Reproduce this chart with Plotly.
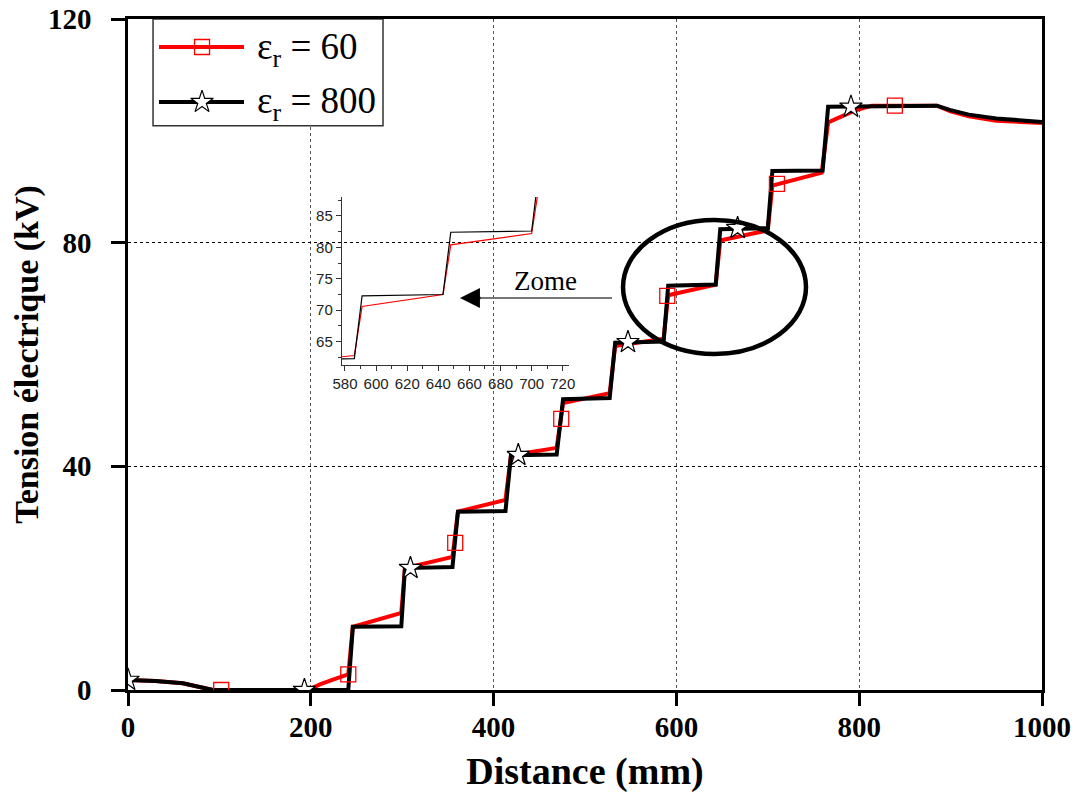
import plotly.graph_objects as go

# ---------------- data ----------------
dist_800 = [0, 30, 60, 79, 93, 241, 246, 299, 303, 355, 361, 413, 419, 469, 476, 527, 533,
            586, 591, 643, 648, 700, 705, 760, 766, 885, 900, 920, 950, 1000]
volt_800 = [1.8, 1.6, 1.2, 0.6, 0.0, 0.0, 11.3, 11.4, 21.8, 22.0, 31.9, 32.0, 42.0, 42.1, 52.0, 52.2, 62.1,
            62.3, 72.3, 72.5, 82.4, 82.6, 92.8, 92.9, 104.3, 104.5, 103.7, 102.9, 102.2, 101.6]

dist_60 = [0, 30, 60, 79, 93, 197, 210, 225, 241, 246, 299, 303, 355, 361, 413, 419, 469, 476, 527, 533,
           586, 591, 643, 648, 700, 705, 759, 766, 780, 795, 814, 885, 900, 920, 950, 1000]
volt_60 = [1.8, 1.6, 1.2, 0.6, 0.0, 0.0, 1.0, 1.9, 2.8, 11.3, 13.8, 21.8, 23.8, 31.9, 34.0, 42.0, 43.3, 51.3, 53.1, 61.5,
           62.8, 70.6, 72.5, 80.4, 82.2, 90.2, 92.5, 101.5, 102.6, 103.6, 104.5, 104.5, 103.5, 102.6, 101.8, 101.4]

mark_x_60 = [102, 241, 358, 474, 590, 710, 839]
mark_y_60 = [0.0, 2.8, 26.3, 48.5, 70.5, 90.5, 104.5]
mark_x_800 = [0, 193, 309, 427, 547, 667, 791]
mark_y_800 = [1.8, 0.0, 21.8, 42.0, 62.2, 82.6, 104.3]

x_ticks = [0, 200, 400, 600, 800, 1000]
y_ticks = [0, 40, 80, 120]
inset_x_ticks = [580, 600, 620, 640, 660, 680, 700, 720]
inset_y_ticks = [65, 70, 75, 80, 85]
series_names = ["ε<sub>r</sub> = 60", "ε<sub>r</sub> = 800"]

RED = "#ff0000"
BLACK = "#000000"
SERIF = "Liberation Serif"

fig = go.Figure()

# ---------------- main curves ----------------
fig.add_trace(go.Scatter(x=dist_60, y=volt_60, mode="lines", line=dict(color=RED, width=4),
                         showlegend=False, hoverinfo="skip"))
fig.add_trace(go.Scatter(x=dist_800, y=volt_800, mode="lines", line=dict(color=BLACK, width=4),
                         showlegend=False, hoverinfo="skip"))
fig.add_trace(go.Scatter(x=mark_x_60, y=mark_y_60, mode="markers",
                         marker=dict(symbol="square-open", size=15, color=RED, line=dict(width=1.3, color=RED)),
                         showlegend=False, hoverinfo="skip"))
fig.add_trace(go.Scatter(x=mark_x_800, y=mark_y_800, mode="markers",
                         marker=dict(symbol="star", size=17, color="white", line=dict(width=1.2, color=BLACK)),
                         showlegend=False, hoverinfo="skip"))

# ---------------- inset (zoom) ----------------
fig.add_trace(go.Scatter(x=dist_60, y=volt_60, mode="lines", line=dict(color=RED, width=1.2),
                         xaxis="x2", yaxis="y2", showlegend=False, hoverinfo="skip"))
fig.add_trace(go.Scatter(x=dist_800, y=volt_800, mode="lines", line=dict(color=BLACK, width=1.2),
                         xaxis="x2", yaxis="y2", showlegend=False, hoverinfo="skip"))

# ---------------- legend (drawn in a [0,1] overlay space) ----------------
leg_y = [0.9583, 0.8763]
leg_x0, leg_x1, leg_xm = 0.0339, 0.1269, 0.081
fig.add_trace(go.Scatter(x=[leg_x0, leg_x1], y=[leg_y[0]] * 2, mode="lines", line=dict(color=RED, width=4),
                         xaxis="x3", yaxis="y3", showlegend=False, hoverinfo="skip"))
fig.add_trace(go.Scatter(x=[leg_xm], y=[leg_y[0]], mode="markers",
                         marker=dict(symbol="square-open", size=15, color=RED, line=dict(width=1.3, color=RED)),
                         xaxis="x3", yaxis="y3", showlegend=False, hoverinfo="skip"))
fig.add_trace(go.Scatter(x=[leg_x0, leg_x1], y=[leg_y[1]] * 2, mode="lines", line=dict(color=BLACK, width=4),
                         xaxis="x3", yaxis="y3", showlegend=False, hoverinfo="skip"))
fig.add_trace(go.Scatter(x=[leg_xm], y=[leg_y[1]], mode="markers",
                         marker=dict(symbol="star", size=17, color="white", line=dict(width=1.2, color=BLACK)),
                         xaxis="x3", yaxis="y3", showlegend=False, hoverinfo="skip"))

shapes = [
    # legend box (main data space, above gridlines, below traces)
    dict(type="rect", xref="x", yref="y", x0=27.4, x1=279, y0=100.9, y1=120,
         line=dict(color="#333333", width=1.5), fillcolor="white", layer="between"),
    # ellipse highlighting the zoomed zone
    dict(type="circle", xref="paper", yref="paper", x0=0.5416, x1=0.7418, y0=0.5007, y1=0.7004,
         line=dict(color=BLACK, width=4.5), layer="above"),
    # grey arrow shaft
    dict(type="line", xref="paper", yref="paper", x0=0.381, x1=0.5295, y0=0.5842, y1=0.5842,
         line=dict(color="#777777", width=2), layer="above"),
]

annotations = [
    dict(text=series_names[0], xref="paper", yref="paper", x=0.139, y=0.955, xanchor="left", yanchor="middle",
         showarrow=False, font=dict(family=SERIF, size=37, color=BLACK)),
    dict(text=series_names[1], xref="paper", yref="paper", x=0.139, y=0.874, xanchor="left", yanchor="middle",
         showarrow=False, font=dict(family=SERIF, size=37, color=BLACK)),
    dict(text="Zome", xref="paper", yref="paper", x=0.457, y=0.609, xanchor="center", yanchor="middle",
         showarrow=False, font=dict(family=SERIF, size=27, color=BLACK)),
    # arrow head
    dict(text="", xref="paper", yref="paper", x=0.3632, y=0.5842, ax=22, ay=0, showarrow=True,
         arrowhead=2, arrowsize=1.6, arrowwidth=2.5, arrowcolor=BLACK, standoff=0),
]

tickfont_main = dict(family=SERIF, size=29, color=BLACK, weight="bold")
inset_font = dict(family="Liberation Sans", size=15, color="#222222")

fig.update_layout(
    width=1080, height=800,
    margin=dict(l=128, r=38, t=19, b=110),
    paper_bgcolor="white", plot_bgcolor="rgba(0,0,0,0)",
    showlegend=False,
    shapes=shapes,
    annotations=annotations,
    xaxis=dict(range=[0, 1000], tickvals=x_ticks, ticks="outside", ticklen=13, tickwidth=2.5,
               tickcolor=BLACK, showline=True, linewidth=2.5, linecolor=BLACK, mirror=True,
               showgrid=True, gridcolor="#555555", griddash="dot", gridwidth=1, zeroline=False,
               tickfont=tickfont_main, ticklabelstandoff=-4, automargin=False,
               title=dict(text="Distance (mm)", font=dict(family=SERIF, size=38, color=BLACK, weight="bold"),
                          standoff=16)),
    yaxis=dict(range=[0, 120], tickvals=y_ticks, ticks="outside", ticklen=14, tickwidth=2.5,
               tickcolor=BLACK, showline=True, linewidth=2.5, linecolor=BLACK, mirror=True,
               showgrid=True, gridcolor=BLACK, griddash="dot", gridwidth=1, zeroline=False,
               tickfont=tickfont_main, ticklabelstandoff=14, automargin=False,
               title=dict(text="Tension électrique (kV)", font=dict(family=SERIF, size=34, color=BLACK, weight="bold"),
                          standoff=0)),
    xaxis2=dict(domain=[0.234, 0.4825], anchor="y2", range=[578, 724], tickvals=inset_x_ticks,
                ticks="outside", ticklen=5, tickwidth=1, tickcolor="#333333",
                minor=dict(dtick=10, tick0=570, ticks="outside", ticklen=3, tickcolor="#333333"),
                showline=True, linewidth=1.2, linecolor="#333333", showgrid=False, zeroline=False,
                tickfont=inset_font),
    yaxis2=dict(domain=[0.4844, 0.7347], anchor="x2", range=[61.3, 88], tickvals=inset_y_ticks,
                ticks="outside", ticklen=5, tickwidth=1, tickcolor="#333333",
                minor=dict(dtick=2.5, tick0=60, ticks="outside", ticklen=3, tickcolor="#333333"),
                showline=True, linewidth=1.2, linecolor="#333333", showgrid=False, zeroline=False,
                tickfont=inset_font),
    xaxis3=dict(overlaying="x", range=[0, 1], visible=False, fixedrange=True),
    yaxis3=dict(overlaying="y", range=[0, 1], visible=False, fixedrange=True),
)

html = fig.to_html(include_plotlyjs=True, full_html=True, config={"displayModeBar": False})
html = html.replace("<body>", '<body style="margin:0;padding:0;overflow:hidden">', 1)
with open("out.html", "w", encoding="utf-8") as f:
    f.write(html)
